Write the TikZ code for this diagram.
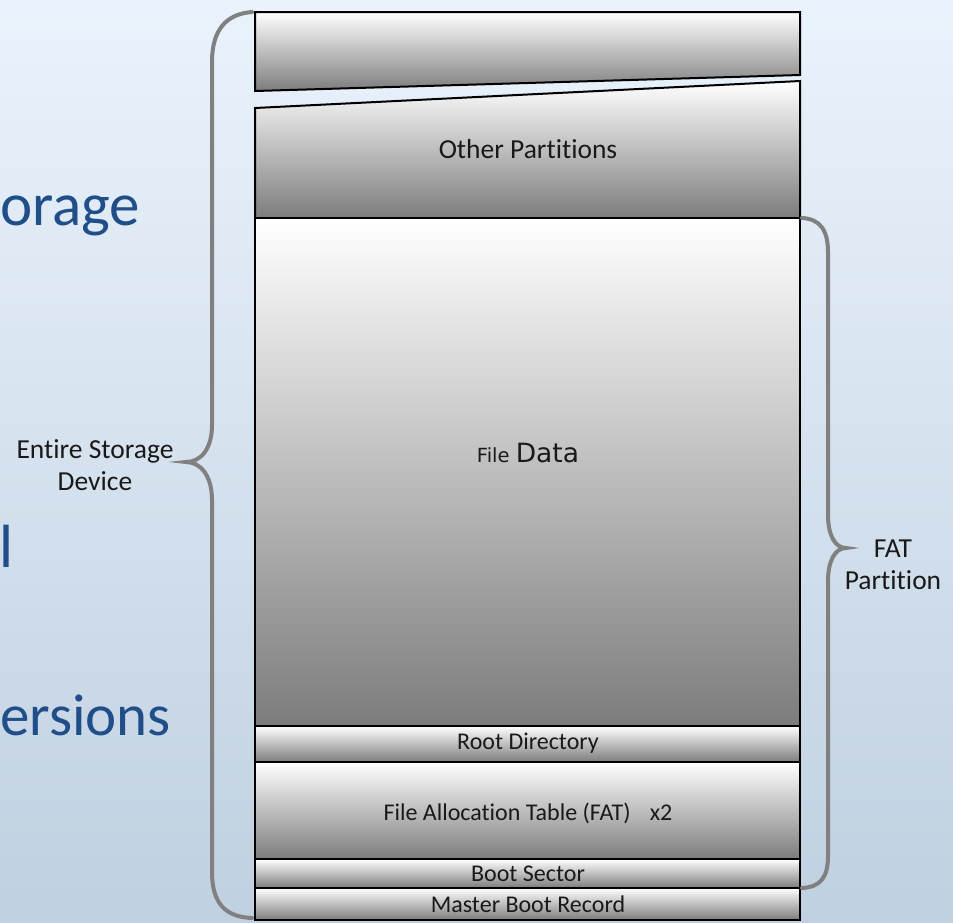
\documentclass[tikz,border=0pt]{standalone}
\usepackage{fontspec}
\setmainfont{Carlito}[Ligatures=NoCommon]
\newfontfamily\dejavu{DejaVu Sans}
\definecolor{bgtop}{RGB}{234,243,252}
\definecolor{bgbot}{RGB}{192,208,224}
\definecolor{bigblue}{RGB}{31,78,137}
\definecolor{bracegray}{RGB}{128,128,128}
\definecolor{boxbot}{RGB}{124,124,124}
\begin{document}
\begin{tikzpicture}[x=1pt,y=-1pt,
  boxshade/.style={draw=black, line width=2pt, top color=white, bottom color=boxbot, line join=miter},
  boxlabel/.style={font=\fontsize{24}{28}\selectfont, text=black!90, inner sep=0pt},
  bracelabel/.style={font=\fontsize{27.5}{32}\selectfont, text=black!90, align=center, inner sep=0pt},
  bigtext/.style={font=\fontsize{61}{66}\selectfont, text=bigblue, inner sep=0pt},
  bracestyle/.style={draw=bracegray, line width=4pt, line cap=round}]
\useasboundingbox (0,0) rectangle (953,922);
\shade[top color=bgtop, bottom color=bgbot] (0,0) rectangle (953,922);
\clip (0,0) rectangle (953,922);
% big partially visible text
\node[bigtext, anchor=base west] (t1) at (0,225) {orage};
\node[bigtext, anchor=base west] (t2) at (-1,567) {l};
\node[bigtext, anchor=base west, font=\fontsize{59}{64}\selectfont] (t3) at (0,735) {ersions};
% boxes
\path[boxshade] (255,12) -- (800,12) -- (800,75) -- (255,91) -- cycle;
\path[boxshade] (255,108) -- (800,81) -- (800,218) -- (255,218) -- cycle;
\path[boxshade] (255,218) rectangle (800,726);
\path[boxshade] (255,726) rectangle (800,762);
\path[boxshade] (255,762) rectangle (800,859);
\path[boxshade] (255,859) rectangle (800,888);
\path[boxshade] (255,888) rectangle (800,920);
% labels
\node[boxlabel, font=\fontsize{27.5}{32}\selectfont] (op) at (528,149) {Other Partitions};
\node[inner sep=0pt, text=black!90] (fd) at (528,453) {\dejavu\fontsize{19.5}{24}\selectfont File \fontsize{26.5}{30}\selectfont Data};
\node[boxlabel] (rd) at (528,743) {Root Directory};
\node[boxlabel] (fat) at (528,813) {File Allocation Table (FAT)\hspace{0.8em}x2};
\node[boxlabel] (bs) at (528,874) {Boot Sector};
\node[boxlabel] (mbr) at (528,904) {Master Boot Record};
% braces
\draw[bracestyle] (252,12) .. controls (226,14) and (212,30) .. (212,62) -- (212,425)
  .. controls (212,450) and (200,462) .. (186,462)
  .. controls (200,462) and (212,475) .. (212,500) -- (212,872)
  .. controls (212,904) and (226,917) .. (252,918);
\draw[bracestyle] (802,218) .. controls (820,219) and (828,230) .. (828,252) -- (828,515)
  .. controls (828,535) and (835,548) .. (846,548)
  .. controls (835,548) and (828,561) .. (828,581) -- (828,856)
  .. controls (828,878) and (820,887) .. (802,888);
\node[bracelabel] (esd) at (95,465) {Entire Storage\\Device};
\node[bracelabel] (fp) at (893,565) {FAT\\Partition};
\end{tikzpicture}
\end{document}
